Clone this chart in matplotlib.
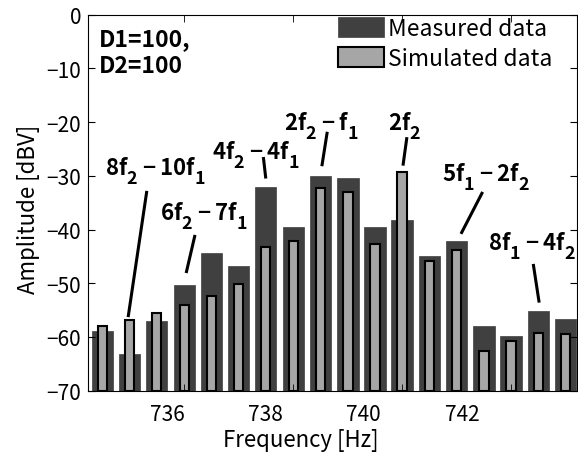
import matplotlib
matplotlib.use("Agg")
import matplotlib.pyplot as plt
import numpy as np

plt.rcParams['font.family'] = ['Noto Sans CJK JP', 'DejaVu Sans']
plt.rcParams['mathtext.fontset'] = 'custom'
plt.rcParams['mathtext.rm'] = 'Noto Sans CJK JP'
plt.rcParams['mathtext.bf'] = 'Noto Sans CJK JP:bold'

# bigger, lower subscripts like the original figure
try:
    import matplotlib._mathtext as _mt
    _mt.SHRINK_FACTOR = 0.8
    _mt.FontConstantsBase.sub1 = 0.75
    _mt.FontConstantsBase.sub2 = 0.9
except Exception:
    pass

# frequency of each spectral line [Hz]
freq = [734.69, 735.24, 735.79, 736.35, 736.90, 737.46, 738.01, 738.57, 739.12,
        739.68, 740.23, 740.78, 741.34, 741.89, 742.45, 743.00, 743.56, 744.11]
measured = [-58.8, -63.2, -57.0, -50.3, -44.4, -46.7, -32.0, -39.6, -30.0,
            -30.4, -39.5, -38.2, -45.0, -42.2, -58.0, -59.8, -55.2, -56.6]
simulated = [-58.0, -56.9, -55.6, -54.1, -52.3, -50.1, -43.3, -42.1, -32.2,
             -33.1, -42.6, -29.2, -45.8, -43.8, -62.6, -60.7, -59.3, -59.4]

xtick_vals = [736, 738, 740, 742]
ytick_vals = [0, -10, -20, -30, -40, -50, -60, -70]

# (label, text xy, line start, line end)
notes = [
    (r'$\mathbf{8f_2-10f_1}$', (735.76, -28.9), (735.59, -32.8), (735.21, -56.3)),
    (r'$\mathbf{6f_2-7f_1}$', (736.75, -37.4), (736.57, -41.0), (736.39, -48.1)),
    (r'$\mathbf{4f_2-4f_1}$', (737.80, -25.9), (737.96, -26.5), (738.01, -30.5)),
    (r'$\mathbf{2f_2-f_1}$', (739.13, -20.5), (739.26, -21.8), (739.15, -28.2)),
    (r'$\mathbf{2f_2}$', (740.84, -20.5), (740.88, -22.8), (740.80, -28.1)),
    (r'$\mathbf{5f_1-2f_2}$', (742.49, -30.0), (742.42, -33.0), (741.98, -40.8)),
    (r'$\mathbf{8f_1-4f_2}$', (743.43, -42.9), (743.45, -46.4), (743.57, -53.6)),
]

ymin = -70
fig = plt.figure(figsize=(5.78, 4.56), dpi=100)
ax = fig.add_axes([0.1528, 0.141, 0.8455, 0.8246])

f = np.array(freq)
ax.bar(f, np.array(measured) - ymin, bottom=ymin, width=0.433,
       color='#404040', edgecolor='#404040', linewidth=0.5, label='Measured data')
ax.bar(f, np.array(simulated) - ymin, bottom=ymin, width=0.19,
       color='#a6a6a6', edgecolor='black', linewidth=1.5, label='Simulated data')

for txt, pos, p0, p1 in notes:
    ax.text(pos[0], pos[1], txt, ha='center', va='center', fontsize=16)
    ax.plot([p0[0], p1[0]], [p0[1], p1[1]], color='black', lw=2.2,
            solid_capstyle='butt')

ax.text(0.0225, 0.968, 'D1=100,\nD2=100', transform=ax.transAxes,
        ha='left', va='top', fontsize=16.5, fontweight='bold', linespacing=1.25)

ax.set_xlim(734.40, 744.34)
ax.set_ylim(-70, 0)
ax.set_xticks(xtick_vals)
ax.set_xticks(f[3::4], minor=True)
ax.set_yticks(ytick_vals)
ax.tick_params(axis='x', which='major', length=0, labelsize=15, pad=9)
ax.tick_params(axis='x', which='minor', length=5, direction='in', top=True,
               labelbottom=False)
ax.tick_params(axis='y', direction='in', length=5, right=True, labelsize=15, pad=5)
for s in ax.spines.values():
    s.set_linewidth(0.8)

ax.set_xlabel('Frequency [Hz]', fontsize=16)
ax.xaxis.set_label_coords(0.435, -0.098)
ax.set_ylabel('Amplitude [dBV]', fontsize=16)
ax.yaxis.set_label_coords(-0.098, 0.486)

ax.legend(loc='upper left', bbox_to_anchor=(0.511, 0.994), frameon=False,
          fontsize=16.5, handlelength=2.0, handleheight=0.95, labelspacing=0.3,
          handletextpad=0.2, borderpad=0, borderaxespad=0)

fig.savefig('out.png', dpi=100)
